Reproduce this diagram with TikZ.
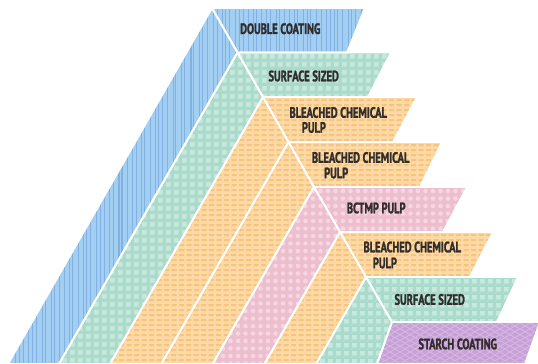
\documentclass[tikz,border=0pt]{standalone}
\usepackage{fontspec}
\newfontfamily\lblfont[FakeStretch=0.7,FakeBold=1.6]{PT Sans}
\definecolor{bluebase}{RGB}{162,206,242}
\definecolor{bluestripe}{RGB}{130,176,226}
\definecolor{greenbase}{RGB}{168,219,204}
\definecolor{greensq}{RGB}{199,232,219}
\definecolor{orangebase}{RGB}{252,217,166}
\definecolor{orangedash}{RGB}{246,196,122}
\definecolor{pinkbase}{RGB}{236,190,206}
\definecolor{pinkdot}{RGB}{245,214,225}
\definecolor{purplebase}{RGB}{199,160,214}
\definecolor{purpleline}{RGB}{213,182,226}
\definecolor{txt}{RGB}{50,45,45}
\tikzset{
  lbl/.style={font=\lblfont\bfseries\fontsize{15}{15}\selectfont, text=txt, anchor=west, inner sep=0pt},
  sep/.style={draw=white, line width=1.8pt, line join=miter},
}
% #1 xmin, #2 number of columns, #3 ymin, #4 number of rows
\newcommand{\greensquares}[4]{%
  \foreach \jj in {0,...,#4} {
    \fill[greensq] \foreach \ii in {0,...,#2} {({#1+8*\ii},{#3+8*\jj}) rectangle ++(4.6,4.6)};
  }}
\newcommand{\orangedashes}[4]{%
  \foreach \jj in {0,...,#4} {
    \fill[orangedash] \foreach \ii in {0,...,#2} {({#1+7.5*\ii},{#3+5*\jj}) rectangle ++(5,2)};
  }}
\begin{document}
\begin{tikzpicture}[x=1pt,y=-1pt]
\useasboundingbox (0,0) rectangle (538,364);

% ---------- layer 0 : blue (double coating)
\begin{scope}
\clip (212,8) -- (237.5,52.5) -- (59,364) -- (8,364) -- cycle
      (212,8) -- (365,8) -- (347,52.5) -- (237.5,52.5) -- cycle;
\fill[bluebase] (0,0) rectangle (370,364);
\pgfmathsetseed{7}
\foreach \i in {0,...,82} {
  \pgfmathsetmacro\xx{4.5*\i+2.5*rnd}
  \pgfmathsetmacro\ww{0.3+0.9*rnd}
  \draw[bluestripe, line width=\ww pt] (\xx,0) -- (\xx,364);
}
\end{scope}

% ---------- layer 1 : green (surface sized)
\begin{scope}
\clip (237.5,52.5) -- (263,97) -- (110,364) -- (59,364) -- cycle
      (237.5,52.5) -- (391,52.5) -- (368,97) -- (263,97) -- cycle;
\fill[greenbase] (50,50) rectangle (395,364);
\greensquares{54}{43}{54}{39}
\end{scope}

% ---------- layer 2 : orange (bleached chemical pulp)
\begin{scope}
\clip (263,97) -- (288.5,142) -- (161.3,364) -- (110,364) -- cycle
      (263,97) -- (417,97) -- (393,142) -- (288.5,142) -- cycle;
\fill[orangebase] (100,95) rectangle (420,364);
\orangedashes{104}{42}{99}{53}
\end{scope}

% ---------- layer 3 : orange (bleached chemical pulp)
\begin{scope}
\clip (288.5,142) -- (314,187) -- (212.6,364) -- (161.3,364) -- cycle
      (288.5,142) -- (442,142) -- (420,187) -- (314,187) -- cycle;
\fill[orangebase] (155,140) rectangle (445,364);
\orangedashes{156}{39}{144}{44}
\end{scope}

% ---------- layer 4 : pink (bctmp pulp)
\begin{scope}
\clip (314,187) -- (340,232) -- (264.4,364) -- (212.6,364) -- cycle
      (314,187) -- (467,187) -- (443,232) -- (340,232) -- cycle;
\fill[pinkbase] (205,185) rectangle (470,364);
\foreach \jj in {0,...,24} {
  \fill[pinkdot] \foreach \ii in {0,...,35} {({208+7.5*\ii},{191+7.5*\jj}) circle (2.3)};
}
\end{scope}

% ---------- layer 5 : orange (bleached chemical pulp)
\begin{scope}
\clip (340,232) -- (366,277) -- (316.1,364) -- (264.4,364) -- cycle
      (340,232) -- (493,232) -- (470,277) -- (366,277) -- cycle;
\fill[orangebase] (260,230) rectangle (496,364);
\orangedashes{261}{31}{234}{26}
\end{scope}

% ---------- layer 6 : green (surface sized)
\begin{scope}
\clip (366,277) -- (392,322) -- (377,364) -- (316.1,364) -- cycle
      (366,277) -- (518,277) -- (497,322) -- (392,322) -- cycle;
\fill[greenbase] (310,275) rectangle (520,364);
\greensquares{312}{26}{279}{11}
\end{scope}

% ---------- layer 7 : purple (starch coating)
\begin{scope}
\clip (392,322) -- (540,322) -- (525,364) -- (377,364) -- cycle;
\fill[purplebase] (370,320) rectangle (545,366);
\foreach \c in {250,260,...,700} {
  \draw[purpleline, line width=1pt] (\c,300) -- ++(-150,86.6);
  \draw[purpleline, line width=1pt] (\c,300) -- ++(150,86.6);
}
\end{scope}

% ---------- white separators
\path[sep] (212,8) -- (237.5,52.5) -- (59,364) -- (8,364) -- cycle;
\path[sep] (212,8) -- (365,8) -- (347,52.5) -- (237.5,52.5) -- cycle;
\path[sep] (237.5,52.5) -- (263,97) -- (110,364) -- (59,364) -- cycle;
\path[sep] (237.5,52.5) -- (391,52.5) -- (368,97) -- (263,97) -- cycle;
\path[sep] (263,97) -- (288.5,142) -- (161.3,364) -- (110,364) -- cycle;
\path[sep] (263,97) -- (417,97) -- (393,142) -- (288.5,142) -- cycle;
\path[sep] (288.5,142) -- (314,187) -- (212.6,364) -- (161.3,364) -- cycle;
\path[sep] (288.5,142) -- (442,142) -- (420,187) -- (314,187) -- cycle;
\path[sep] (314,187) -- (340,232) -- (264.4,364) -- (212.6,364) -- cycle;
\path[sep] (314,187) -- (467,187) -- (443,232) -- (340,232) -- cycle;
\path[sep] (340,232) -- (366,277) -- (316.1,364) -- (264.4,364) -- cycle;
\path[sep] (340,232) -- (493,232) -- (470,277) -- (366,277) -- cycle;
\path[sep] (366,277) -- (392,322) -- (377,364) -- (316.1,364) -- cycle;
\path[sep] (366,277) -- (518,277) -- (497,322) -- (392,322) -- cycle;
\path[sep] (392,322) -- (540,322) -- (525,364) -- (377,364) -- cycle;

% ---------- labels
\node[lbl] (l0) at (240,28.7) {DOUBLE COATING};
\node[lbl] (l1) at (268.3,76) {SURFACE SIZED};
\node[lbl] (l2a) at (289.3,112.5) {BLEACHED CHEMICAL};
\node[lbl] (l2b) at (301.7,127.5) {PULP};
\node[lbl] (l3a) at (311.7,157.5) {BLEACHED CHEMICAL};
\node[lbl] (l3b) at (324,173) {PULP};
\node[lbl] (l4) at (346.7,208) {BCTMP PULP};
\node[lbl] (l5a) at (363.3,247) {BLEACHED CHEMICAL};
\node[lbl] (l5b) at (372.7,263) {PULP};
\node[lbl] (l6) at (394.3,299.5) {SURFACE SIZED};
\node[lbl] (l7) at (418.3,344) {STARCH COATING};
\end{tikzpicture}
\end{document}
